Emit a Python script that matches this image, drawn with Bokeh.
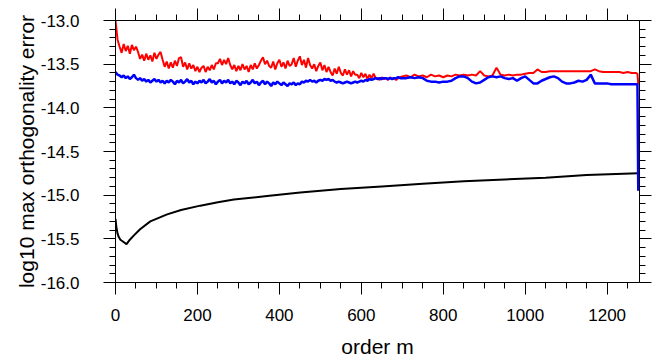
from bokeh.plotting import figure
from bokeh.models import (LinearAxis, SingleIntervalTicker, PrintfTickFormatter, Range1d,
                          CustomLabelingPolicy)
from bokeh.embed import file_html
from bokeh.resources import INLINE

# ---- data ----
m_grid = list(range(0, 705, 5)) + list(range(710, 1280, 10)) + [1274, 1276]

red = [
    -13.00, -13.22, -13.30,
    -13.37, -13.27, -13.35, -13.29, -13.38, -13.28, -13.34, -13.30, -13.36,
    -13.44, -13.39, -13.46, -13.38, -13.45, -13.40, -13.47, -13.37, -13.44, -13.39, -13.36, -13.45,
    -13.53, -13.47, -13.55, -13.48, -13.54, -13.46, -13.52, -13.43, -13.42, -13.53, -13.48, -13.56, -13.49, -13.55, -13.51,
    -13.58, -13.53, -13.59, -13.54, -13.52, -13.59, -13.53, -13.57, -13.51, -13.56, -13.49,
    -13.49, -13.44, -13.51, -13.45, -13.50, -13.43, -13.51,
    -13.56, -13.51, -13.58, -13.52, -13.57, -13.50, -13.56, -13.52, -13.59, -13.51, -13.56, -13.49, -13.55, -13.51,
    -13.46, -13.42, -13.50, -13.46, -13.52,
    -13.54, -13.47, -13.56, -13.49, -13.45, -13.53, -13.48, -13.55, -13.46, -13.52,
    -13.50, -13.43, -13.53, -13.46, -13.41, -13.51, -13.45, -13.54, -13.43, -13.51,
    -13.55, -13.50, -13.58, -13.52, -13.48, -13.57, -13.51, -13.59, -13.53,
    -13.59, -13.63, -13.55, -13.61, -13.53, -13.60, -13.63, -13.56, -13.62, -13.57, -13.64, -13.58, -13.62,
    -13.62, -13.66, -13.60, -13.65, -13.61, -13.67, -13.62, -13.66, -13.61, -13.66,
    -13.66, -13.68, -13.65, -13.67, -13.66, -13.68, -13.65, -13.67, -13.66, -13.68, -13.66, -13.65,
    -13.64,
    -13.63, -13.65, -13.62, -13.64, -13.63, -13.65, -13.62, -13.64, -13.63, -13.65,
    -13.63, -13.64, -13.62, -13.63, -13.62, -13.63, -13.62, -13.63, -13.58, -13.63,
    -13.64, -13.63, -13.54, -13.62, -13.63, -13.62, -13.63, -13.62, -13.62, -13.61,
    -13.60, -13.60, -13.56, -13.59, -13.59, -13.58, -13.58, -13.58, -13.58, -13.58,
    -13.58, -13.58, -13.58, -13.58, -13.58, -13.58, -13.56, -13.58, -13.59, -13.59,
    -13.59, -13.59, -13.59, -13.60, -13.59, -13.60, -13.60,
    -13.61, -13.73,
]

blue = [
    -13.59, -13.62, -13.63, -13.65, -13.63, -13.66, -13.64, -13.67, -13.65, -13.62,
    -13.66, -13.68, -13.66, -13.69, -13.67, -13.70, -13.68, -13.71, -13.69, -13.67,
    -13.70, -13.68, -13.71, -13.69, -13.72, -13.69, -13.71, -13.68, -13.70, -13.73,
    -13.69, -13.71, -13.68, -13.72, -13.70, -13.67, -13.71, -13.69, -13.73, -13.70,
    -13.72, -13.69, -13.71, -13.68, -13.72, -13.70, -13.67, -13.71, -13.69, -13.73,
    -13.70, -13.68, -13.72, -13.69, -13.71, -13.68, -13.72, -13.70, -13.73, -13.69,
    -13.71, -13.74, -13.70, -13.72, -13.69, -13.73, -13.71, -13.68, -13.72, -13.70,
    -13.74, -13.71, -13.69, -13.73, -13.70, -13.72, -13.75, -13.71, -13.73, -13.70,
    -13.72, -13.74, -13.71, -13.73, -13.75, -13.72, -13.73, -13.71, -13.74, -13.72,
    -13.73, -13.70, -13.71, -13.69, -13.70, -13.68, -13.70, -13.69, -13.71, -13.69,
    -13.68, -13.69, -13.67, -13.68, -13.67, -13.69, -13.68, -13.70, -13.71, -13.70,
    -13.71, -13.72, -13.71, -13.70, -13.71, -13.72, -13.71, -13.70, -13.71, -13.70,
    -13.69, -13.70, -13.68, -13.69, -13.67, -13.68, -13.67, -13.66, -13.67, -13.66,
    -13.67, -13.66, -13.66, -13.67, -13.66, -13.67, -13.66, -13.66, -13.65, -13.66,
    -13.66,
    -13.66, -13.65, -13.66, -13.65, -13.66, -13.69, -13.70, -13.70, -13.71, -13.70,
    -13.70, -13.69, -13.66, -13.64, -13.64, -13.66, -13.70, -13.72, -13.71, -13.68,
    -13.65, -13.64, -13.65, -13.64, -13.66, -13.67, -13.66, -13.69, -13.66, -13.64,
    -13.68, -13.72, -13.72, -13.69, -13.67, -13.65, -13.64, -13.66, -13.70, -13.72,
    -13.72, -13.71, -13.69, -13.70, -13.68, -13.62, -13.72, -13.72, -13.72, -13.72,
    -13.73, -13.73, -13.73, -13.73, -13.73, -13.73, -13.73,
    -13.73, -14.95,
]

m_black = [0, 2, 5, 8, 12, 18, 27, 35, 45, 60, 85, 126, 160, 207, 250, 289,
           370, 451, 550, 650, 750, 850, 950, 1050, 1150, 1276]
black = [-15.27, -15.36, -15.44, -15.48, -15.51, -15.53, -15.56, -15.51, -15.46,
         -15.39, -15.30, -15.22, -15.17, -15.12, -15.08, -15.05, -15.01, -14.97,
         -14.93, -14.90, -14.87, -14.84, -14.82, -14.80, -14.77, -14.75]

x_title = "order m"
y_title = "log10 max orthogonality error"

FONT = "Liberation Sans"

p = figure(width=655, height=360, output_backend="svg", toolbar_location=None,
           x_range=Range1d(0, 1279), y_range=Range1d(-16, -13),
           x_axis_location=None, y_axis_location=None,
           min_border_left=115, min_border_right=16, min_border_top=20, min_border_bottom=76)
p.grid.visible = False
p.outline_line_color = None
p.background_fill_color = "white"

no_labels = CustomLabelingPolicy(code="""
    const a = [...indices]
    for (const i of a) indices.unset(i)
    return indices
""")

def style(ax, labels=True):
    ax.major_tick_in = 0
    ax.major_tick_out = 12
    ax.minor_tick_in = 0
    ax.minor_tick_out = 6
    ax.axis_line_color = "black"
    ax.major_tick_line_color = "black"
    ax.minor_tick_line_color = "black"
    ax.axis_line_width = 1
    ax.major_label_text_font = FONT
    ax.major_label_text_font_size = "17px"
    ax.major_label_text_color = "black"
    ax.axis_label_text_font = FONT
    ax.axis_label_text_font_size = "21px"
    ax.axis_label_text_font_style = "normal"
    ax.axis_label_text_color = "black"
    if not labels:
        ax.major_label_policy = no_labels
        ax.major_label_text_font_size = "0px"
        ax.major_label_standoff = 0

for loc, is_x, lab in [("below", True, True), ("above", True, False),
                       ("left", False, True), ("right", False, False)]:
    if is_x:
        t = SingleIntervalTicker(interval=200, num_minor_ticks=4)
    else:
        t = SingleIntervalTicker(interval=0.5, num_minor_ticks=5)
    ax = LinearAxis(ticker=t)
    if not is_x:
        ax.formatter = PrintfTickFormatter(format="%.1f")
    style(ax, lab)
    if loc == "below":
        ax.axis_label = x_title
        ax.major_label_standoff = 14
        ax.axis_label_standoff = 11
    if loc == "left":
        ax.axis_label = y_title
        ax.major_label_standoff = 24
        ax.axis_label_standoff = 0
    p.add_layout(ax, loc)

p.line(m_black, black, line_color="black", line_width=2)
p.line(m_grid, red, line_color="red", line_width=2)
p.line(m_grid, blue, line_color="blue", line_width=2.5)

open("out.html", "w").write(file_html(p, INLINE))
